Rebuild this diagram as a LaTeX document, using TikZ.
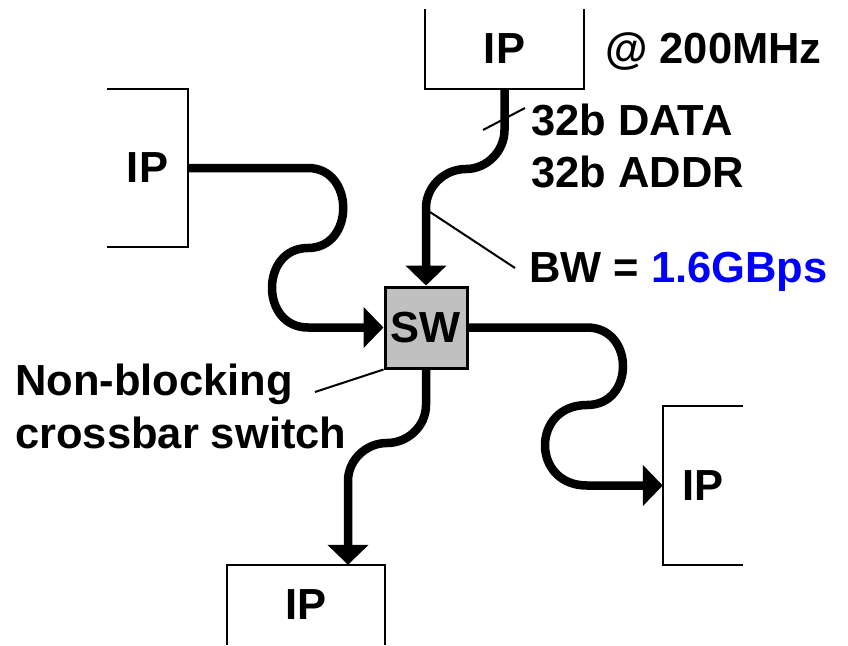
\documentclass[tikz,border=0pt]{standalone}
\usepackage{fontspec}
\setmainfont{Liberation Sans}
\usetikzlibrary{arrows.meta}
\definecolor{swgray}{RGB}{192,192,192}
\definecolor{bwblue}{RGB}{0,0,255}
\begin{document}
\begin{tikzpicture}[x=1pt,y=-1pt,
  lbl/.style={font=\fontsize{43.5}{52}\selectfont\bfseries, inner sep=0pt},
  ipbox/.style={lbl, minimum width=#1, text depth=0pt},
  boxline/.style={line width=2.2pt, line join=miter},
  link/.style={line width=8.5pt, -{Triangle[length=20pt,width=40pt]}},
  thinline/.style={line width=2pt}]
\useasboundingbox (0,0) rectangle (848,645);
% IP blocks
\node[ipbox=159pt, minimum height=80pt] (ipT) at (504.5,49) {IP};
\node[ipbox=81pt, minimum height=158pt] (ipL) at (147.5,168) {IP};
\node[ipbox=80pt, minimum height=159pt] (ipR) at (703,485.5) {IP};
\node[ipbox=158pt, minimum height=80pt] (ipB) at (306,605) {IP};
\draw[boxline] (ipT.north west) -- (ipT.south west) -- (ipT.south east) -- (ipT.north east);
\draw[boxline] (ipL.north west) -- (ipL.north east) -- (ipL.south east) -- (ipL.south west);
\draw[boxline] (ipR.north east) -- (ipR.north west) -- (ipR.south west) -- (ipR.south east);
\draw[boxline] (ipB.south west) -- (ipB.north west) -- (ipB.north east) -- (ipB.south east);
% switch
\node[lbl, draw, line width=3pt, fill=swgray, minimum width=82pt, minimum height=81pt, text depth=0pt] (sw) at (426,327.5) {SW};
% connectors
\coordinate (tb) at (426,208);
\draw[link] (ipT.south) -- (504.5,130) .. controls (504.5,151) and (487,169) .. (466,169)
  .. controls (444,169) and (426,187) .. (tb) -- (sw.north);
\draw[link] (ipL.east) -- (308,168) .. controls (355,168) and (355,248) .. (308,248)
  .. controls (260,248) and (260,327.5) .. (308,327.5) -- (sw.west);
\draw[link] (sw.east) -- (587,327.5) .. controls (635,327.5) and (635,405) .. (587,405)
  .. controls (531,405) and (531,485.5) .. (587,485.5) -- (ipR.west);
\coordinate (bb) at (348,481);
\draw[link] (sw.south) -- (426,405) .. controls (426,426) and (408,443) .. (387,443)
  .. controls (366,443) and (348,460) .. (bb) -- (bb |- ipB.north);
% labels
\node[lbl, anchor=base west] (freq) at (605,63) {@ 200MHz};
\node[lbl, anchor=base west] (data) at (531,135) {32b DATA};
\node[lbl, anchor=base west] (addr) at (531,187) {32b ADDR};
\node[lbl, anchor=base west] (bw) at (529,282) {BW = \textcolor{bwblue}{1.6GBps}};
\node[lbl, anchor=base west] (nb) at (15,395) {Non-blocking};
\node[lbl, anchor=base west] (cs) at (15,448) {crossbar switch};
% bus-width tick and callouts
\coordinate (tickA) at (483,130);
\coordinate (tickB) at (525,108);
\draw[thinline] (tickA) -- (tickB);
\coordinate (bwA) at (430,212);
\coordinate (bwB) at (515,268);
\draw[thinline] (bwA) -- (bwB);
\coordinate (nbA) at (315,392);
\draw[thinline] (nbA) -- (sw.south west);
\end{tikzpicture}
\end{document}
